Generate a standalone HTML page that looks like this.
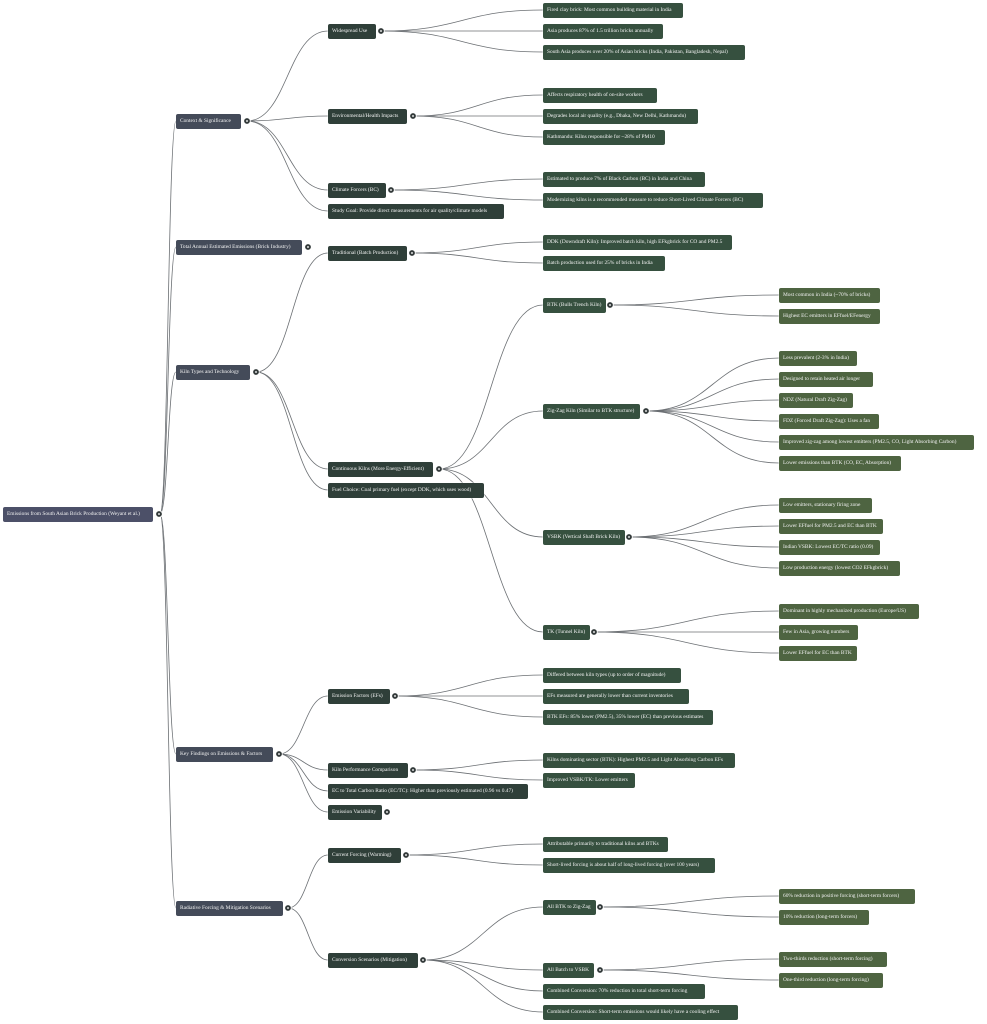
<!DOCTYPE html>
<html><head><meta charset="utf-8"><style>
html,body{margin:0;padding:0;background:#fff;}
body{width:987px;height:1024px;position:relative;overflow:hidden;font-family:"Liberation Serif",serif;}
.n{position:absolute;height:15px;line-height:15px;padding:0 4px;box-sizing:border-box;border-radius:2px;color:#f2f2f2;font-size:5.4px;white-space:nowrap;overflow:hidden;box-shadow:0 0 0 0.6px rgba(255,255,255,0.6);}
.r{background:#4c5068;}
.a{background:#444b59;}
.b{background:#2f3f39;}
.c{background:#36503f;}
.d{background:#4e6441;}
svg{position:absolute;left:0;top:0;}
</style></head><body>
<svg id="s" width="987" height="1024"></svg>

<div class="n r" style="left:3px;top:507px;width:150px">Emissions from South Asian Brick Production (Weyant et al.)</div>

<div class="n a" style="left:176px;top:114px;width:65px">Context &amp; Significance</div>
<div class="n a" style="left:176px;top:240px;width:126px">Total Annual Estimated Emissions (Brick Industry)</div>
<div class="n a" style="left:176px;top:365px;width:74px">Kiln Types and Technology</div>
<div class="n a" style="left:176px;top:747px;width:97px">Key Findings on Emissions &amp; Factors</div>
<div class="n a" style="left:176px;top:901px;width:107px">Radiative Forcing &amp; Mitigation Scenarios</div>

<div class="n b" style="left:328px;top:24px;width:48px">Widespread Use</div>
<div class="n b" style="left:328px;top:109px;width:79px">Environmental/Health Impacts</div>
<div class="n b" style="left:328px;top:183px;width:58px">Climate Forcers (BC)</div>
<div class="n b" style="left:328px;top:204px;width:176px">Study Goal: Provide direct measurements for air quality/climate models</div>
<div class="n b" style="left:328px;top:246px;width:79px">Traditional (Batch Production)</div>
<div class="n b" style="left:328px;top:462px;width:105px">Continuous Kilns (More Energy-Efficient)</div>
<div class="n b" style="left:328px;top:483px;width:156px">Fuel Choice: Coal primary fuel (except DDK, which uses wood)</div>
<div class="n b" style="left:328px;top:689px;width:62px">Emission Factors (EFs)</div>
<div class="n b" style="left:328px;top:763px;width:80px">Kiln Performance Comparison</div>
<div class="n b" style="left:328px;top:784px;width:200px">EC to Total Carbon Ratio (EC/TC): Higher than previously estimated (0.96 vs 0.47)</div>
<div class="n b" style="left:328px;top:805px;width:54px">Emission Variability</div>
<div class="n b" style="left:328px;top:848px;width:73px">Current Forcing (Warming)</div>
<div class="n b" style="left:328px;top:953px;width:90px">Conversion Scenarios (Mitigation)</div>

<div class="n c" style="left:543px;top:3px;width:140px">Fired clay brick: Most common building material in India</div>
<div class="n c" style="left:543px;top:24px;width:120px">Asia produces 87% of 1.5 trillion bricks annually</div>
<div class="n c" style="left:543px;top:45px;width:202px">South Asia produces over 20% of Asian bricks (India, Pakistan, Bangladesh, Nepal)</div>
<div class="n c" style="left:543px;top:88px;width:114px">Affects respiratory health of on-site workers</div>
<div class="n c" style="left:543px;top:109px;width:155px">Degrades local air quality (e.g., Dhaka, New Delhi, Kathmandu)</div>
<div class="n c" style="left:543px;top:130px;width:122px">Kathmandu: Kilns responsible for ~28% of PM10</div>
<div class="n c" style="left:543px;top:172px;width:162px">Estimated to produce 7% of Black Carbon (BC) in India and China</div>
<div class="n c" style="left:543px;top:193px;width:220px">Modernizing kilns is a recommended measure to reduce Short-Lived Climate Forcers (BC)</div>
<div class="n c" style="left:543px;top:235px;width:189px">DDK (Downdraft Kiln): Improved batch kiln, high EFkgbrick for CO and PM2.5</div>
<div class="n c" style="left:543px;top:256px;width:122px">Batch production used for 25% of bricks in India</div>
<div class="n c" style="left:543px;top:298px;width:63px">BTK (Bulls Trench Kiln)</div>
<div class="n c" style="left:543px;top:404px;width:97px">Zig-Zag Kiln (Similar to BTK structure)</div>
<div class="n c" style="left:543px;top:530px;width:82px">VSBK (Vertical Shaft Brick Kiln)</div>
<div class="n c" style="left:543px;top:625px;width:47px">TK (Tunnel Kiln)</div>
<div class="n c" style="left:543px;top:668px;width:138px">Differed between kiln types (up to order of magnitude)</div>
<div class="n c" style="left:543px;top:689px;width:146px">EFs measured are generally lower than current inventories</div>
<div class="n c" style="left:543px;top:710px;width:170px">BTK EFs: 85% lower (PM2.5), 35% lower (EC) than previous estimates</div>
<div class="n c" style="left:543px;top:753px;width:192px">Kilns dominating sector (BTK): Highest PM2.5 and Light Absorbing Carbon EFs</div>
<div class="n c" style="left:543px;top:773px;width:92px">Improved VSBK/TK: Lower emitters</div>
<div class="n c" style="left:543px;top:837px;width:125px">Attributable primarily to traditional kilns and BTKs</div>
<div class="n c" style="left:543px;top:858px;width:172px">Short-lived forcing is about half of long-lived forcing (over 100 years)</div>
<div class="n c" style="left:543px;top:900px;width:53px">All BTK to Zig-Zag</div>
<div class="n c" style="left:543px;top:963px;width:51px">All Batch to VSBK</div>
<div class="n c" style="left:543px;top:984px;width:162px">Combined Conversion: 70% reduction in total short-term forcing</div>
<div class="n c" style="left:543px;top:1005px;width:195px">Combined Conversion: Short-term emissions would likely have a cooling effect</div>

<div class="n d" style="left:779px;top:288px;width:101px">Most common in India (~70% of bricks)</div>
<div class="n d" style="left:779px;top:309px;width:101px">Highest EC emitters in EFfuel/EFenergy</div>
<div class="n d" style="left:779px;top:351px;width:78px">Less prevalent (2-3% in India)</div>
<div class="n d" style="left:779px;top:372px;width:94px">Designed to retain heated air longer</div>
<div class="n d" style="left:779px;top:393px;width:74px">NDZ (Natural Draft Zig-Zag)</div>
<div class="n d" style="left:779px;top:414px;width:100px">FDZ (Forced Draft Zig-Zag): Uses a fan</div>
<div class="n d" style="left:779px;top:435px;width:195px">Improved zig-zag among lowest emitters (PM2.5, CO, Light Absorbing Carbon)</div>
<div class="n d" style="left:779px;top:456px;width:122px">Lower emissions than BTK (CO, EC, Absorption)</div>
<div class="n d" style="left:779px;top:498px;width:93px">Low emitters, stationary firing zone</div>
<div class="n d" style="left:779px;top:519px;width:104px">Lower EFfuel for PM2.5 and EC than BTK</div>
<div class="n d" style="left:779px;top:540px;width:101px">Indian VSBK: Lowest EC/TC ratio (0.09)</div>
<div class="n d" style="left:779px;top:561px;width:121px">Low production energy (lowest CO2 EFkgbrick)</div>
<div class="n d" style="left:779px;top:604px;width:140px">Dominant in highly mechanized production (Europe/US)</div>
<div class="n d" style="left:779px;top:625px;width:79px">Few in Asia, growing numbers</div>
<div class="n d" style="left:779px;top:646px;width:78px">Lower EFfuel for EC than BTK</div>
<div class="n d" style="left:779px;top:889px;width:136px">60% reduction in positive forcing (short-term forcers)</div>
<div class="n d" style="left:779px;top:910px;width:90px">10% reduction (long-term forcers)</div>
<div class="n d" style="left:779px;top:952px;width:108px">Two-thirds reduction (short-term forcing)</div>
<div class="n d" style="left:779px;top:973px;width:104px">One-third reduction (long-term forcing)</div>

<script>
var s=document.getElementById('s'),h='';
function E(x1,y1,x2,ys){ys.forEach(function(y2){var m=(x1+x2)/2;h+='<path d="M'+x1+' '+y1+' C'+m+' '+y1+','+m+' '+y2+','+x2+' '+y2+'" fill="none" stroke="#6b6f73" stroke-width="0.8"/>';});}
E(160,514,176,[121,247,372,754,908]);
E(247,121,328,[31,116,190,211]);
E(256,372,328,[253,469,490]);
E(279,754,328,[696,770,791,812]);
E(288,908,328,[855,960]);
E(381,31,543,[10,31,52]);
E(413,116,543,[95,116,137]);
E(391,190,543,[179,200]);
E(412,253,543,[242,263]);
E(439,469,543,[305,411,537,632]);
E(395,696,543,[675,696,717]);
E(413,770,543,[760,780]);
E(406,855,543,[844,865]);
E(423,960,543,[907,970,991,1012]);
E(610,305,779,[295,316]);
E(646,411,779,[358,379,400,421,442,463]);
E(629,537,779,[505,526,547,568]);
E(594,632,779,[611,632,653]);
E(600,907,779,[896,917]);
E(600,970,779,[959,980]);
[[159,514],[247,121],[308,247],[256,372],[279,754],[288,908],
[381,31],[413,116],[391,190],[412,253],[439,469],[395,696],[413,770],[387,812],[406,855],[423,960],
[610,305],[646,411],[629,537],[594,632],[600,907],[600,970]].forEach(function(c){
h+='<circle cx="'+c[0]+'" cy="'+c[1]+'" r="3.3" fill="#333a3a" stroke="#fff" stroke-width="0.8"/><circle cx="'+c[0]+'" cy="'+c[1]+'" r="1" fill="#ddd"/>';});
s.innerHTML=h;
</script>
</body></html>
